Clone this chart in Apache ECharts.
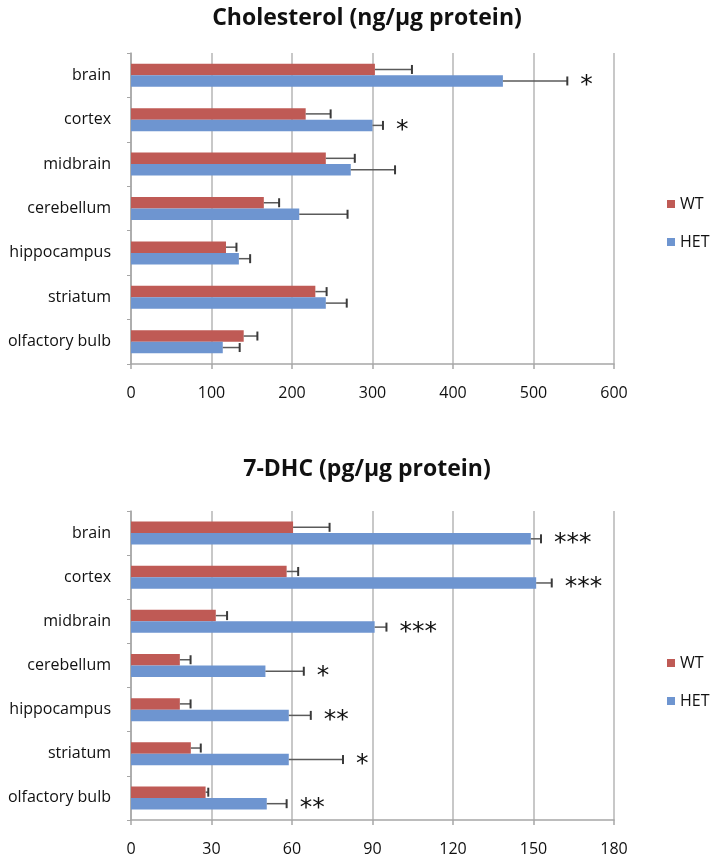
<!DOCTYPE html>
<html><head><meta charset="utf-8">
<script src="https://cdn.jsdelivr.net/npm/echarts@6/dist/echarts.min.js"></script>
<style>html,body{margin:0;padding:0;background:#fff}#c{width:712px;height:857px}</style>
</head><body><div id="c"></div>
<script>
const categories = ['brain','cortex','midbrain','cerebellum','hippocampus','striatum','olfactory bulb'];
const cholTicks = [0,100,200,300,400,500,600];
const cholWT = [303,217,242,165,118,229,140];
const cholWTErr = [46,31,36,19,13,14,17];
const cholHET = [462,300,273,209,134,242,114];
const cholHETErr = [80,13,55,60,14,26,21];
const cholSig = ['*','*','','','','',''];
const dhcTicks = [0,30,60,90,120,150,180];
const dhcWT = [60.4,58,31.6,18.2,18.2,22.3,27.8];
const dhcWTErr = [13.6,4.3,4.2,4,4,3.7,1];
const dhcHET = [149,151,90.8,50.1,58.8,58.8,50.6];
const dhcHETErr = [3.8,5.8,4.4,14.3,8.2,20.2,7.4];
const dhcSig = ['***','***','***','*','**','*','**'];

const WT_COLOR = '#BF5A55';
const HET_COLOR = '#6E95D0';
const BAR_W = 11.5;
const FONT = '"Open Sans", sans-serif';

function errData(vals, errs){ return vals.map((v,i)=>[v,i,errs[i],v+errs[i]]); }
function sigData(vals, errs, sig){ return vals.map((v,i)=>[v+errs[i],i,sig[i]]); }

function errSeries(name, gi, vals, errs, dir){
  return {
    type:'custom', name:name, xAxisIndex:gi, yAxisIndex:gi, z:5,
    encode:{x:[0,3], y:1},
    data: errData(vals, errs),
    renderItem:function(params, api){
      const a = api.coord([api.value(0), api.value(1)]);
      const b = api.coord([api.value(3), api.value(1)]);
      const y = a[1] + dir*BAR_W/2;
      return {type:'group', children:[
        {type:'line', shape:{x1:a[0],y1:y,x2:b[0],y2:y}, style:{stroke:'#5a5a5a',lineWidth:1.5}},
        {type:'line', shape:{x1:b[0],y1:y-4.5,x2:b[0],y2:y+4.5}, style:{stroke:'#3a3a3a',lineWidth:2}}
      ]};
    }
  };
}
function sigSeries(name, gi, vals, errs, sig, dir){
  return {
    type:'custom', name:name, xAxisIndex:gi, yAxisIndex:gi, z:6, clip:false,
    encode:{x:0, y:1},
    data: sigData(vals, errs, sig),
    renderItem:function(params, api){
      const p = api.coord([api.value(0), api.value(1)]);
      const txt = sig[params.dataIndex];
      if(!txt) return null;
      return {type:'text', x:p[0]+13, y:p[1]+dir*BAR_W/2+5,
        style:{text:txt, fill:'#111', font:'25px "DejaVu Sans", sans-serif', textAlign:'left', textVerticalAlign:'middle'}};
    }
  };
}

function xAxis(gi, ticks){
  return {type:'value', gridIndex:gi, min:ticks[0], max:ticks[ticks.length-1], interval:ticks[1]-ticks[0],
    axisLine:{show:true, lineStyle:{color:'#a6a6a6', width:1.5}},
    axisTick:{show:true, length:5, lineStyle:{color:'#a6a6a6', width:1.5}},
    splitLine:{show:true, lineStyle:{color:'#c8c8c8', width:2}},
    axisLabel:{color:'#111', fontFamily:FONT, fontSize:16, margin:21}};
}
function yAxis(gi){
  return {type:'category', gridIndex:gi, data:categories, inverse:true,
    axisLine:{show:true, lineStyle:{color:'#a6a6a6', width:1.5}},
    axisTick:{show:true, length:4, lineStyle:{color:'#a6a6a6'}},
    axisLabel:{color:'#111', fontFamily:FONT, fontSize:16, margin:20}};
}
function bar(name, gi, vals, color){
  return {type:'bar', name:name, xAxisIndex:gi, yAxisIndex:gi, data:vals, barWidth:BAR_W, barGap:'0%',
    itemStyle:{color:color}};
}
function legend(top){
  return {orient:'vertical', left:662, top:top, data:['WT','HET'], itemWidth:8, itemHeight:8, itemGap:22,
    icon:'rect', textStyle:{color:'#111', fontFamily:FONT, fontSize:16}};
}

const chart = echarts.init(document.getElementById('c'));
chart.setOption({
  animation:false,
  color:[WT_COLOR, HET_COLOR],
  title:[
    {text:'Cholesterol (ng/µg protein)', left:362, top:2, textAlign:'center', textStyle:{fontFamily:FONT, fontSize:23, fontWeight:'bold', color:'#111'}},
    {text:'7-DHC (pg/µg protein)', left:362, top:453, textAlign:'center', textStyle:{fontFamily:FONT, fontSize:23, fontWeight:'bold', color:'#111'}}
  ],
  legend:[legend(191), legend(650)],
  grid:[
    {left:131, top:53, width:483, height:311},
    {left:131, top:511, width:483, height:311}
  ],
  xAxis:[xAxis(0, cholTicks), xAxis(1, dhcTicks)],
  yAxis:[yAxis(0), yAxis(1)],
  series:[
    bar('WT',0,cholWT,WT_COLOR), bar('HET',0,cholHET,HET_COLOR),
    bar('WT',1,dhcWT,WT_COLOR), bar('HET',1,dhcHET,HET_COLOR),
    errSeries('eWT0',0,cholWT,cholWTErr,-1), errSeries('eHET0',0,cholHET,cholHETErr,1),
    errSeries('eWT1',1,dhcWT,dhcWTErr,-1), errSeries('eHET1',1,dhcHET,dhcHETErr,1),
    sigSeries('s0',0,cholHET,cholHETErr,cholSig,1),
    sigSeries('s1',1,dhcHET,dhcHETErr,dhcSig,1)
  ]
});
</script></body></html>
